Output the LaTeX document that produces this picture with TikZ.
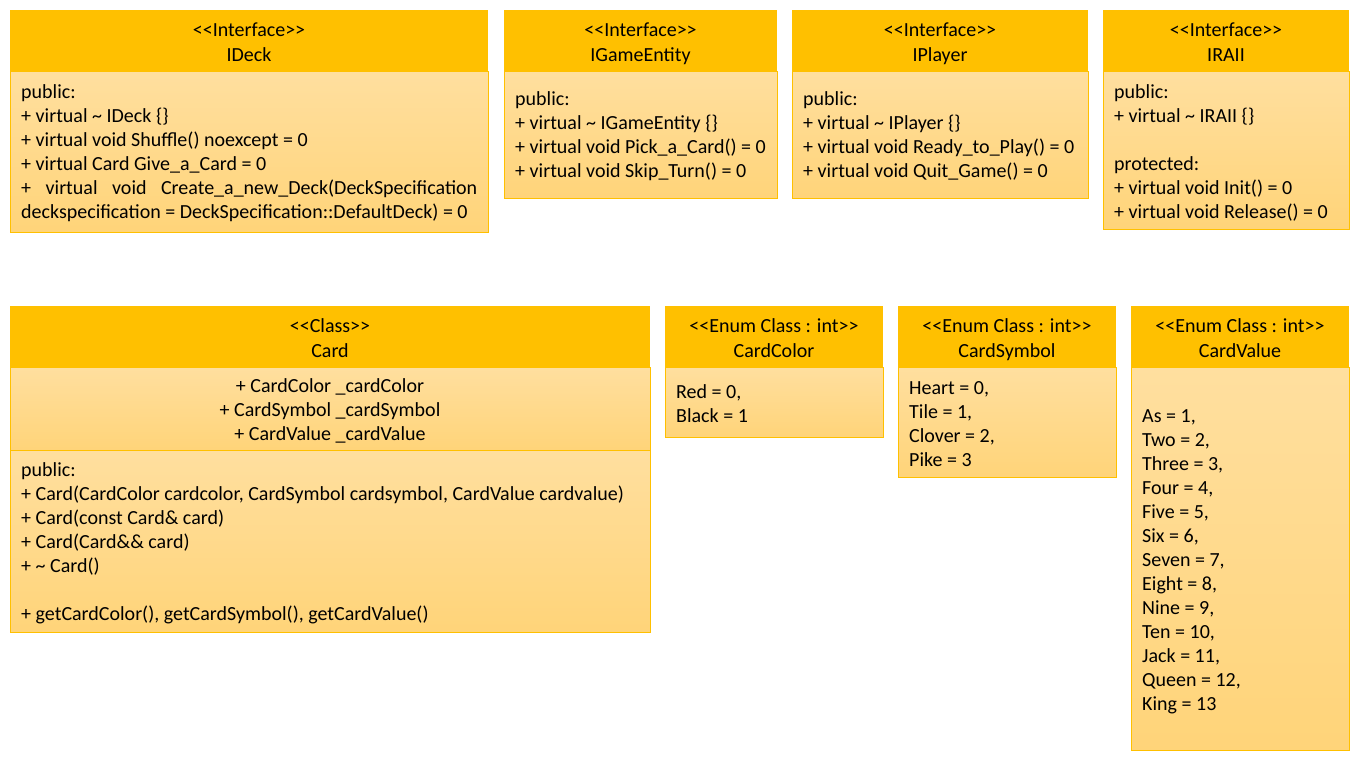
\documentclass[tikz,border=0pt]{standalone}
\usepackage{fontspec}
\setmainfont{Carlito}
\definecolor{hdr}{HTML}{FFC000}
\definecolor{btop}{HTML}{FFDF9F}
\definecolor{bbot}{HTML}{FFD479}
\definecolor{bord}{HTML}{FFC000}
\newcommand\dbllt{<\kern0pt<}
\newcommand\dblgt{>\kern0pt>}
\tikzset{
  hdrbox/.style={fill=hdr, draw=none, inner sep=0pt, outer sep=0pt},
  bodybox/.style={top color=btop, bottom color=bbot, draw=bord, line width=0.9pt, inner sep=0pt, outer sep=0pt},
  titletext/.style={anchor=north, inner sep=0pt, align=center, font=\fontsize{20}{25}\selectfont},
  membertext/.style={anchor=north west, inner sep=0pt, align=left, font=\fontsize{20}{24}\selectfont},
  attrtext/.style={anchor=north, inner sep=0pt, align=center, font=\fontsize{20}{24}\selectfont},
}
\newcommand\partbox[6]{\node[#2, minimum width={#5-#3}, minimum height={#6-#4}] (#1) at ({(#3+#5)/2},{(#4+#6)/2}) {};}
\begin{document}
\begin{tikzpicture}[x=1pt,y=-1pt]
\useasboundingbox[fill=white] (0,0) rectangle (1363,763);

% ---------- IDeck ----------
\partbox{ideckB}{bodybox}{10}{71}{488}{232}
\partbox{ideckH}{hdrbox}{10}{10}{488}{71}
\node[titletext] (ideckT) at (249,18.5) {\strut\dbllt Interface\dblgt\\IDeck};
\node[membertext] (ideckM) at (21,81.2) {\strut public:\\
+ virtual \textasciitilde{} IDeck \{\}\\
+ virtual void Shuffle() noexcept = 0\\
+ virtual Card Give\_a\_Card = 0\\
\hbox to 456pt{+\hfill virtual\hfill void\hfill Create\_a\_new\_Deck(DeckSpecification}\\
deckspecification = DeckSpecification::DefaultDeck) = 0};

% ---------- IGameEntity ----------
\partbox{igeB}{bodybox}{504}{71}{777}{198}
\partbox{igeH}{hdrbox}{504}{10}{777}{71}
\node[titletext] (igeT) at (640.5,18.5) {\strut\dbllt Interface\dblgt\\IGameEntity};
\node[membertext] (igeM) at (515,88.2) {\strut public:\\
+ virtual \textasciitilde{} IGameEntity \{\}\\
+ virtual void Pick\_a\_Card() = 0\\
+ virtual void Skip\_Turn() = 0};

% ---------- IPlayer ----------
\partbox{iplB}{bodybox}{792}{71}{1088}{198}
\partbox{iplH}{hdrbox}{792}{10}{1088}{71}
\node[titletext] (iplT) at (940,18.5) {\strut\dbllt Interface\dblgt\\IPlayer};
\node[membertext] (iplM) at (803,88.2) {\strut public:\\
+ virtual \textasciitilde{} IPlayer \{\}\\
+ virtual void Ready\_to\_Play() = 0\\
+ virtual void Quit\_Game() = 0};

% ---------- IRAII ----------
\partbox{iraB}{bodybox}{1103}{71}{1349}{229}
\partbox{iraH}{hdrbox}{1103}{10}{1349}{71}
\node[titletext] (iraT) at (1226,18.5) {\strut\dbllt Interface\dblgt\\IRAII};
\node[membertext] (iraM) at (1114,81.2) {\strut public:\\
+ virtual \textasciitilde{} IRAII \{\}\\
\strut\\
protected:\\
+ virtual void Init() = 0\\
+ virtual void Release() = 0};

% ---------- Card ----------
\partbox{cardA}{bodybox}{10}{367}{650}{450}
\partbox{cardB}{bodybox}{10}{450}{650}{632}
\partbox{cardH}{hdrbox}{10}{306}{650}{367}
\node[titletext] (cardT) at (330,314.5) {\strut\dbllt Class\dblgt\\Card};
\node[attrtext] (cardAt) at (330,375.2) {\strut + CardColor \_cardColor\\
+ CardSymbol \_cardSymbol\\
+ CardValue \_cardValue};
\node[membertext] (cardM) at (21,459.2) {\strut public:\\
+ Card(CardColor cardcolor, CardSymbol cardsymbol, CardValue cardvalue)\\
+ Card(const Card\& card)\\
+ Card(Card\&\& card)\\
+ \textasciitilde{} Card()\\
\strut\\
+ getCardColor(), getCardSymbol(), getCardValue()};

% ---------- CardColor ----------
\partbox{ccB}{bodybox}{665}{367}{883}{437}
\partbox{ccH}{hdrbox}{665}{306}{883}{367}
\node[titletext] (ccT) at (774,314.5) {\strut\dbllt Enum Class : int\dblgt\\CardColor};
\node[membertext] (ccM) at (676,381.2) {\strut Red = 0,\\
Black = 1};

% ---------- CardSymbol ----------
\partbox{csB}{bodybox}{898}{367}{1116}{477}
\partbox{csH}{hdrbox}{898}{306}{1116}{367}
\node[titletext] (csT) at (1007,314.5) {\strut\dbllt Enum Class : int\dblgt\\CardSymbol};
\node[membertext] (csM) at (909,377.2) {\strut Heart = 0,\\
Tile = 1,\\
Clover = 2,\\
Pike = 3};

% ---------- CardValue ----------
\partbox{cvB}{bodybox}{1131}{367}{1349}{750}
\partbox{cvH}{hdrbox}{1131}{306}{1349}{367}
\node[titletext] (cvT) at (1240,314.5) {\strut\dbllt Enum Class : int\dblgt\\CardValue};
\node[membertext] (cvM) at (1142,405.2) {\strut As = 1,\\
Two = 2,\\
Three = 3,\\
Four = 4,\\
Five = 5,\\
Six = 6,\\
Seven = 7,\\
Eight = 8,\\
Nine = 9,\\
Ten = 10,\\
Jack = 11,\\
Queen = 12,\\
King = 13};
\end{tikzpicture}
\end{document}
